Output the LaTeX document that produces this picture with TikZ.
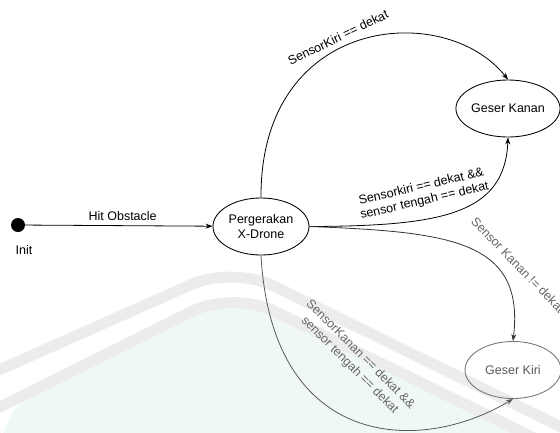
\documentclass[tikz,border=0pt]{standalone}
\usepackage{fontspec}
\setmainfont{Liberation Sans}
\usetikzlibrary{arrows.meta,shapes.geometric}

\definecolor{wmgray}{HTML}{ECECEC}
\definecolor{wmgreen}{HTML}{F0F8F3}

\begin{document}
\begin{tikzpicture}[x=1pt,y=-1pt,
  every node/.style={font=\fontsize{12.5}{14}\selectfont},
  state/.style={ellipse, draw, line width=0.85pt, inner sep=0pt,
    minimum width=96pt, minimum height=57pt, align=center,
    font=\fontsize{12.5}{15.5}\selectfont},
  faded/.style={draw=black!55, text=black!65},
  trans/.style={line width=0.8pt, -{Stealth[length=7pt,width=5pt]}},
  lbl/.style={inner sep=0pt, align=center},
  greylbl/.style={lbl, text=black!60},
  band/.style={draw=wmgray, line width=11pt, rounded corners=45pt}
]
\useasboundingbox (0,0) rectangle (560,432);

% faint background emblem
\fill[wmgreen, rounded corners=45pt] (0,407) -- (233,291) -- (600,470) -- (0,470) -- cycle;
\draw[band] (-10,412) -- (233,291) -- (600,470);
\draw[band] (-10,374) -- (233,266) -- (600,446);

% states
\node[circle, fill=black, minimum size=14pt, inner sep=0pt] (init) at (18,225) {};
\node (initlbl) at (24,250) {Init};
\node[state] (perg) at (261,226.5) {Pergerakan\\X-Drone};
\node[state] (kanan) at (508,108.5) {Geser Kanan};
\node[state, faded] (kiri) at (513,370) {Geser Kiri};

% transitions
\draw[trans] (init) -- (perg) node[lbl, pos=0.52, above=5pt] (hit) {Hit Obstacle};
\draw[trans] (perg.north) .. controls (260,15) and (445,0) .. (kanan.north);
\draw[trans] (perg.east) .. controls (440,226) and (505,215) .. (kanan.south);
\draw[trans, black!80] (perg.east) .. controls (450,232) and (525,240) .. (kiri.north);
\draw[trans, black!65] (perg.south) .. controls (272,450) and (420,455) .. (kiri.south);

% guard labels
\node[lbl, rotate=26] (g1) at (338,37.5) {SensorKiri == dekat};
\node[lbl, rotate=13, font=\fontsize{12.5}{14.5}\selectfont] (g2) at (423,194)
  {Sensorkiri == dekat \&\&\\sensor tengah == dekat};
\node[greylbl, rotate=-46] (g3) at (518,265) {Sensor Kanan != dekat};
\node[greylbl, rotate=-45, font=\fontsize{12.5}{15}\selectfont] (g4) at (355,360)
  {SensorKanan == dekat \&\&\\sensor tengah == dekat};
\end{tikzpicture}
\end{document}
